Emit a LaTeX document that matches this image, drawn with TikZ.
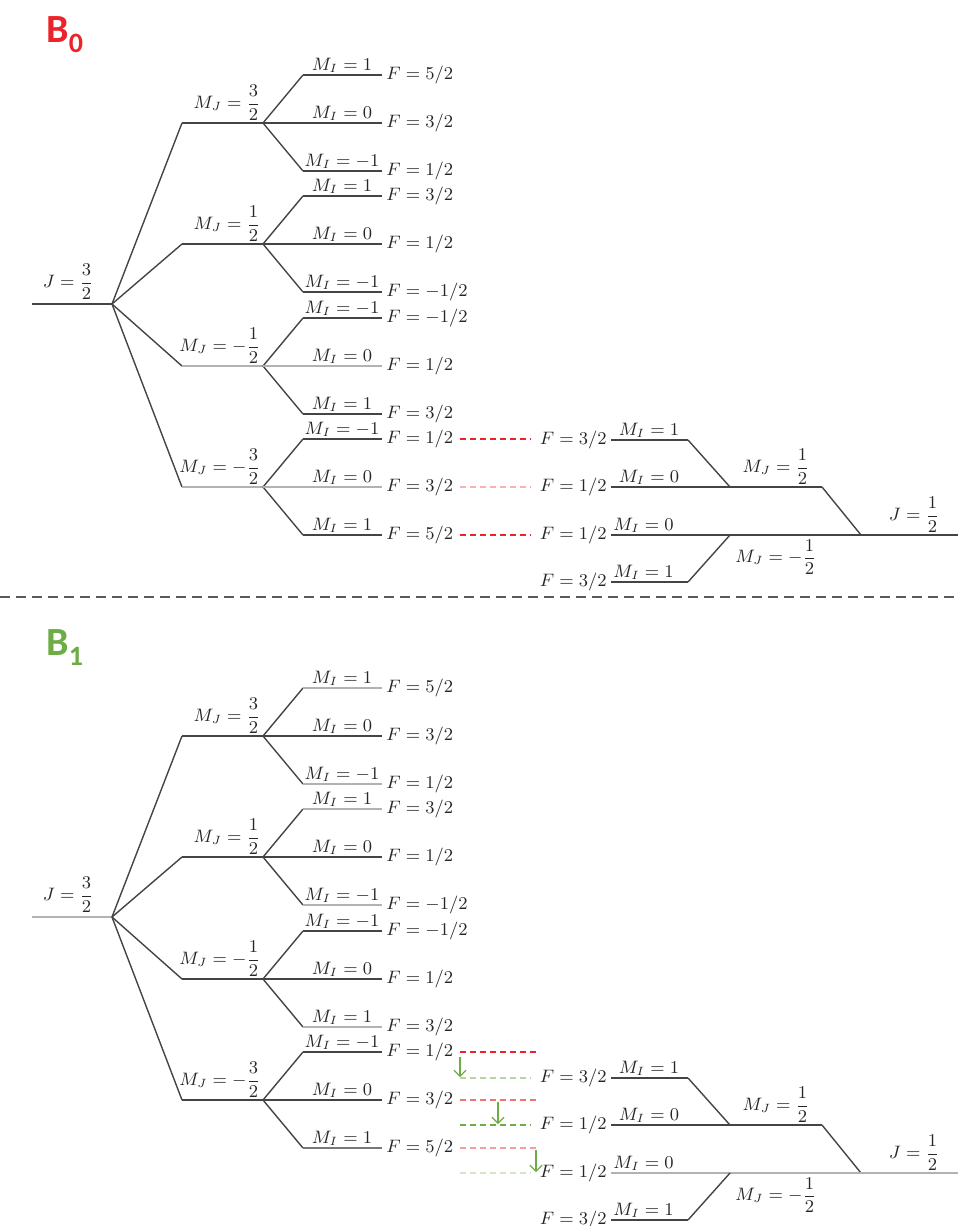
\documentclass[tikz,border=0pt]{standalone}
\usepackage{amsmath}
\usepackage{fontspec}
\usepackage{tikz}
\usetikzlibrary{positioning,arrows.meta}

\newfontfamily\panelfont{Carlito}

\definecolor{bred}{RGB}{234,36,42}
\definecolor{bgreen}{RGB}{110,172,70}
\definecolor{lvdark}{RGB}{68,68,68}
\definecolor{lvmid}{RGB}{120,120,120}
\definecolor{lvlight}{RGB}{178,178,178}

\begin{document}
\begin{tikzpicture}[%
		x=0.5pt,
		y=-0.5pt,
		lvd/.style={draw=lvdark, line width=1pt},
		lvm/.style={draw=lvmid, line width=0.9pt},
		lvl/.style={draw=lvlight, line width=0.8pt},
		tilt/.style={draw=lvdark, line width=0.7pt},
		lab/.style={font=\small, text=black!85, inner sep=1pt},
		flab/.style={lab, inner sep=2pt},
		panel/.style={%
			font=\panelfont\bfseries\fontsize{20}{20}\selectfont,
			inner sep=0pt,
			anchor=base west
		},
		fline/.style={dash pattern=on 3pt off 2pt, line width=1pt, shorten <=1pt, shorten >=2.5pt},
		divider/.style={draw=black!65, dash pattern=on 5pt off 3pt, line width=1pt},
		drop/.style={draw=bgreen, line width=0.6pt, -{Straight Barb[length=3pt,width=6pt]}}
		]
		\useasboundingbox (0,0) rectangle (958,1226);

		% panel B0
		\node[panel, text=bred] (bzero) at (46,42) {B\raisebox{-5pt}{\fontsize{14}{14}\selectfont 0}};

		\coordinate (aJl) at (32,304);
		\coordinate (aJr) at (112,304);
		\draw[lvd] (aJl) -- (aJr);
		\node[lab, anchor=south east] (aJ) at (96,302) {$J = \dfrac{3}{2}$};

		\foreach \k/\y/\sg/\n/\sj/\sa/\sb/\sc/\ia/\ic/\fa/\fb/\fc in {%
			1/123/{}/3/lvd/lvd/lvd/lvd/1/-1/5/3/1,
			2/244/{}/1/lvd/lvd/lvd/lvd/1/-1/3/1/-1,
			3/366/-/1/lvl/lvd/lvl/lvd/-1/1/-1/1/3,
			4/487/-/3/lvl/lvd/lvl/lvd/-1/1/1/3/5}
		{
			\coordinate (a\k-l) at (182,\y);
			\coordinate (a\k-r) at (263,\y);
			\coordinate (a\k-ta) at (303,\y-48);
			\coordinate (a\k-tb) at (382,\y-48);
			\coordinate (a\k-mb) at (382,\y);
			\coordinate (a\k-ca) at (303,\y+48);
			\coordinate (a\k-cb) at (382,\y+48);
			\draw[tilt] (aJr) -- (a\k-l);
			\draw[\sj] (a\k-l) -- (a\k-r);
			\draw[tilt] (a\k-r) -- (a\k-ta);
			\draw[tilt] (a\k-r) -- (a\k-ca);
			\draw[\sa] (a\k-ta) -- (a\k-tb);
			\draw[\sb] (a\k-r) -- (a\k-mb);
			\draw[\sc] (a\k-ca) -- (a\k-cb);
			\node[lab, anchor=south east] (a\k-mj) at (a\k-r) {$M_J = \sg\dfrac{\n}{2}$};
			\node[lab, above] (a\k-ia) at (342,\y-48) {$M_I = \ia$};
			\node[lab, above] (a\k-ib) at (342,\y) {$M_I = 0$};
			\node[lab, above] (a\k-ic) at (342,\y+48) {$M_I = \ic$};
			\node[flab, right] (a\k-fa) at (a\k-tb) {$F = \fa/2$};
			\node[flab, right] (a\k-fb) at (a\k-mb) {$F = \fb/2$};
			\node[flab, right] (a\k-fc) at (a\k-cb) {$F = \fc/2$};
		}

		% panel B1
		\node[panel, text=bgreen] (bone) at (46,655) {B\raisebox{-5pt}{\fontsize{14}{14}\selectfont 1}};

		\coordinate (bJl) at (32,917);
		\coordinate (bJr) at (112,917);
		\draw[lvl] (bJl) -- (bJr);
		\node[lab, anchor=south east] (bJ) at (96,915) {$J = \dfrac{3}{2}$};

		\foreach \k/\y/\sg/\n/\sj/\sa/\sb/\sc/\ia/\ic/\fa/\fb/\fc in {%
			1/736/{}/3/lvd/lvl/lvd/lvl/1/-1/5/3/1,
			2/857/{}/1/lvd/lvl/lvd/lvl/1/-1/3/1/-1,
			3/979/-/1/lvd/lvd/lvd/lvl/-1/1/-1/1/3,
			4/1100/-/3/lvd/lvd/lvd/lvm/-1/1/1/3/5}
		{
			\coordinate (b\k-l) at (182,\y);
			\coordinate (b\k-r) at (263,\y);
			\coordinate (b\k-ta) at (303,\y-48);
			\coordinate (b\k-tb) at (382,\y-48);
			\coordinate (b\k-mb) at (382,\y);
			\coordinate (b\k-ca) at (303,\y+48);
			\coordinate (b\k-cb) at (382,\y+48);
			\draw[tilt] (bJr) -- (b\k-l);
			\draw[\sj] (b\k-l) -- (b\k-r);
			\draw[tilt] (b\k-r) -- (b\k-ta);
			\draw[tilt] (b\k-r) -- (b\k-ca);
			\draw[\sa] (b\k-ta) -- (b\k-tb);
			\draw[\sb] (b\k-r) -- (b\k-mb);
			\draw[\sc] (b\k-ca) -- (b\k-cb);
			\node[lab, anchor=south east] (b\k-mj) at (b\k-r) {$M_J = \sg\dfrac{\n}{2}$};
			\node[lab, above] (b\k-ia) at (342,\y-48) {$M_I = \ia$};
			\node[lab, above] (b\k-ib) at (342,\y) {$M_I = 0$};
			\node[lab, above] (b\k-ic) at (342,\y+48) {$M_I = \ic$};
			\node[flab, right] (b\k-fa) at (b\k-tb) {$F = \fa/2$};
			\node[flab, right] (b\k-fb) at (b\k-mb) {$F = \fb/2$};
			\node[flab, right] (b\k-fc) at (b\k-cb) {$F = \fc/2$};
		}

		% J = 1/2 side, both panels
		\foreach \p/\dy/\sj in {ra/0/lvd, rb/638/lvl}
		{
			\coordinate (\p1-l) at (611,440+\dy);
			\coordinate (\p1-r) at (688,440+\dy);
			\coordinate (\p2-l) at (611,487+\dy);
			\coordinate (\p-mj) at (730,487+\dy);
			\coordinate (\p2-r) at (822,487+\dy);
			\coordinate (\p3-l) at (611,535+\dy);
			\coordinate (\p-mjm) at (730,535+\dy);
			\coordinate (\p-j) at (861,535+\dy);
			\coordinate (\p3-r) at (958,535+\dy);
			\coordinate (\p4-l) at (611,582+\dy);
			\coordinate (\p4-r) at (688,582+\dy);
			\draw[lvd] (\p1-l) -- (\p1-r);
			\draw[tilt] (\p1-r) -- (\p-mj);
			\draw[lvd] (\p2-l) -- (\p2-r);
			\draw[tilt] (\p2-r) -- (\p-j);
			\draw[\sj] (\p3-l) -- (\p3-r);
			\draw[lvd] (\p4-l) -- (\p4-r);
			\draw[tilt] (\p4-r) -- (\p-mjm);
			\node[flab, left] (\p-f1) at (\p1-l) {$F = 3/2$};
			\node[flab, left] (\p-f2) at (\p2-l) {$F = 1/2$};
			\node[flab, left] (\p-f3) at (\p3-l) {$F = 1/2$};
			\node[flab, left] (\p-f4) at (\p4-l) {$F = 3/2$};
			\node[lab, above] (\p-i1) at (649,440+\dy) {$M_I = 1$};
			\node[lab, above] (\p-i2) at (649,487+\dy) {$M_I = 0$};
			\node[lab, anchor=south west] (\p-i3) at (\p3-l) {$M_I = 0$};
			\node[lab, anchor=south west] (\p-i4) at (\p4-l) {$M_I = 1$};
			\node[lab, anchor=south east] (\p-mjl) at (812,487+\dy) {$M_J = \dfrac{1}{2}$};
			\node[lab, anchor=south east] (\p-jl) at (942,535+\dy) {$J = \dfrac{1}{2}$};
			\node[lab, anchor=north east] (\p-mjml) at (819,537+\dy) {$M_J = -\dfrac{1}{2}$};
		}

		% links in B0
		\draw[fline, bred] (a4-fa.east) -- (a4-fa.east -| ra-f1.west);
		\draw[fline, bred!35] (a4-fb.east) -- (a4-fb.east -| ra-f2.west);
		\draw[fline, bred] (a4-fc.east) -- (a4-fc.east -| ra-f3.west);

		% links in B1
		\coordinate (bx) at (541,1100);
		\draw[fline, bred] (b4-fa.east) -- (b4-fa.east -| bx);
		\draw[fline, bred!65] (b4-fb.east) -- (b4-fb.east -| bx);
		\draw[fline, bred!45] (b4-fc.east) -- (b4-fc.east -| bx);
		\draw[fline, bgreen!50] (rb-f1.west -| b4-fa.east) -- (rb-f1.west);
		\draw[fline, bgreen] (rb-f2.west -| b4-fb.east) -- (rb-f2.west);
		\draw[fline, bgreen!30] (rb-f3.west -| b4-fc.east) -- (rb-f3.west);

		\coordinate (d1s) at (460,1057);
		\coordinate (d1e) at (460,1077);
		\coordinate (d2s) at (498,1102);
		\coordinate (d2e) at (498,1124);
		\coordinate (d3s) at (536,1150);
		\coordinate (d3e) at (536,1172);
		\draw[drop] (d1s) -- (d1e);
		\draw[drop] (d2s) -- (d2e);
		\draw[drop] (d3s) -- (d3e);

		% divider
		\coordinate (sepl) at (0,597);
		\coordinate (sepr) at (958,597);
		\draw[divider] (sepl) -- (sepr);
\end{tikzpicture}
\end{document}
